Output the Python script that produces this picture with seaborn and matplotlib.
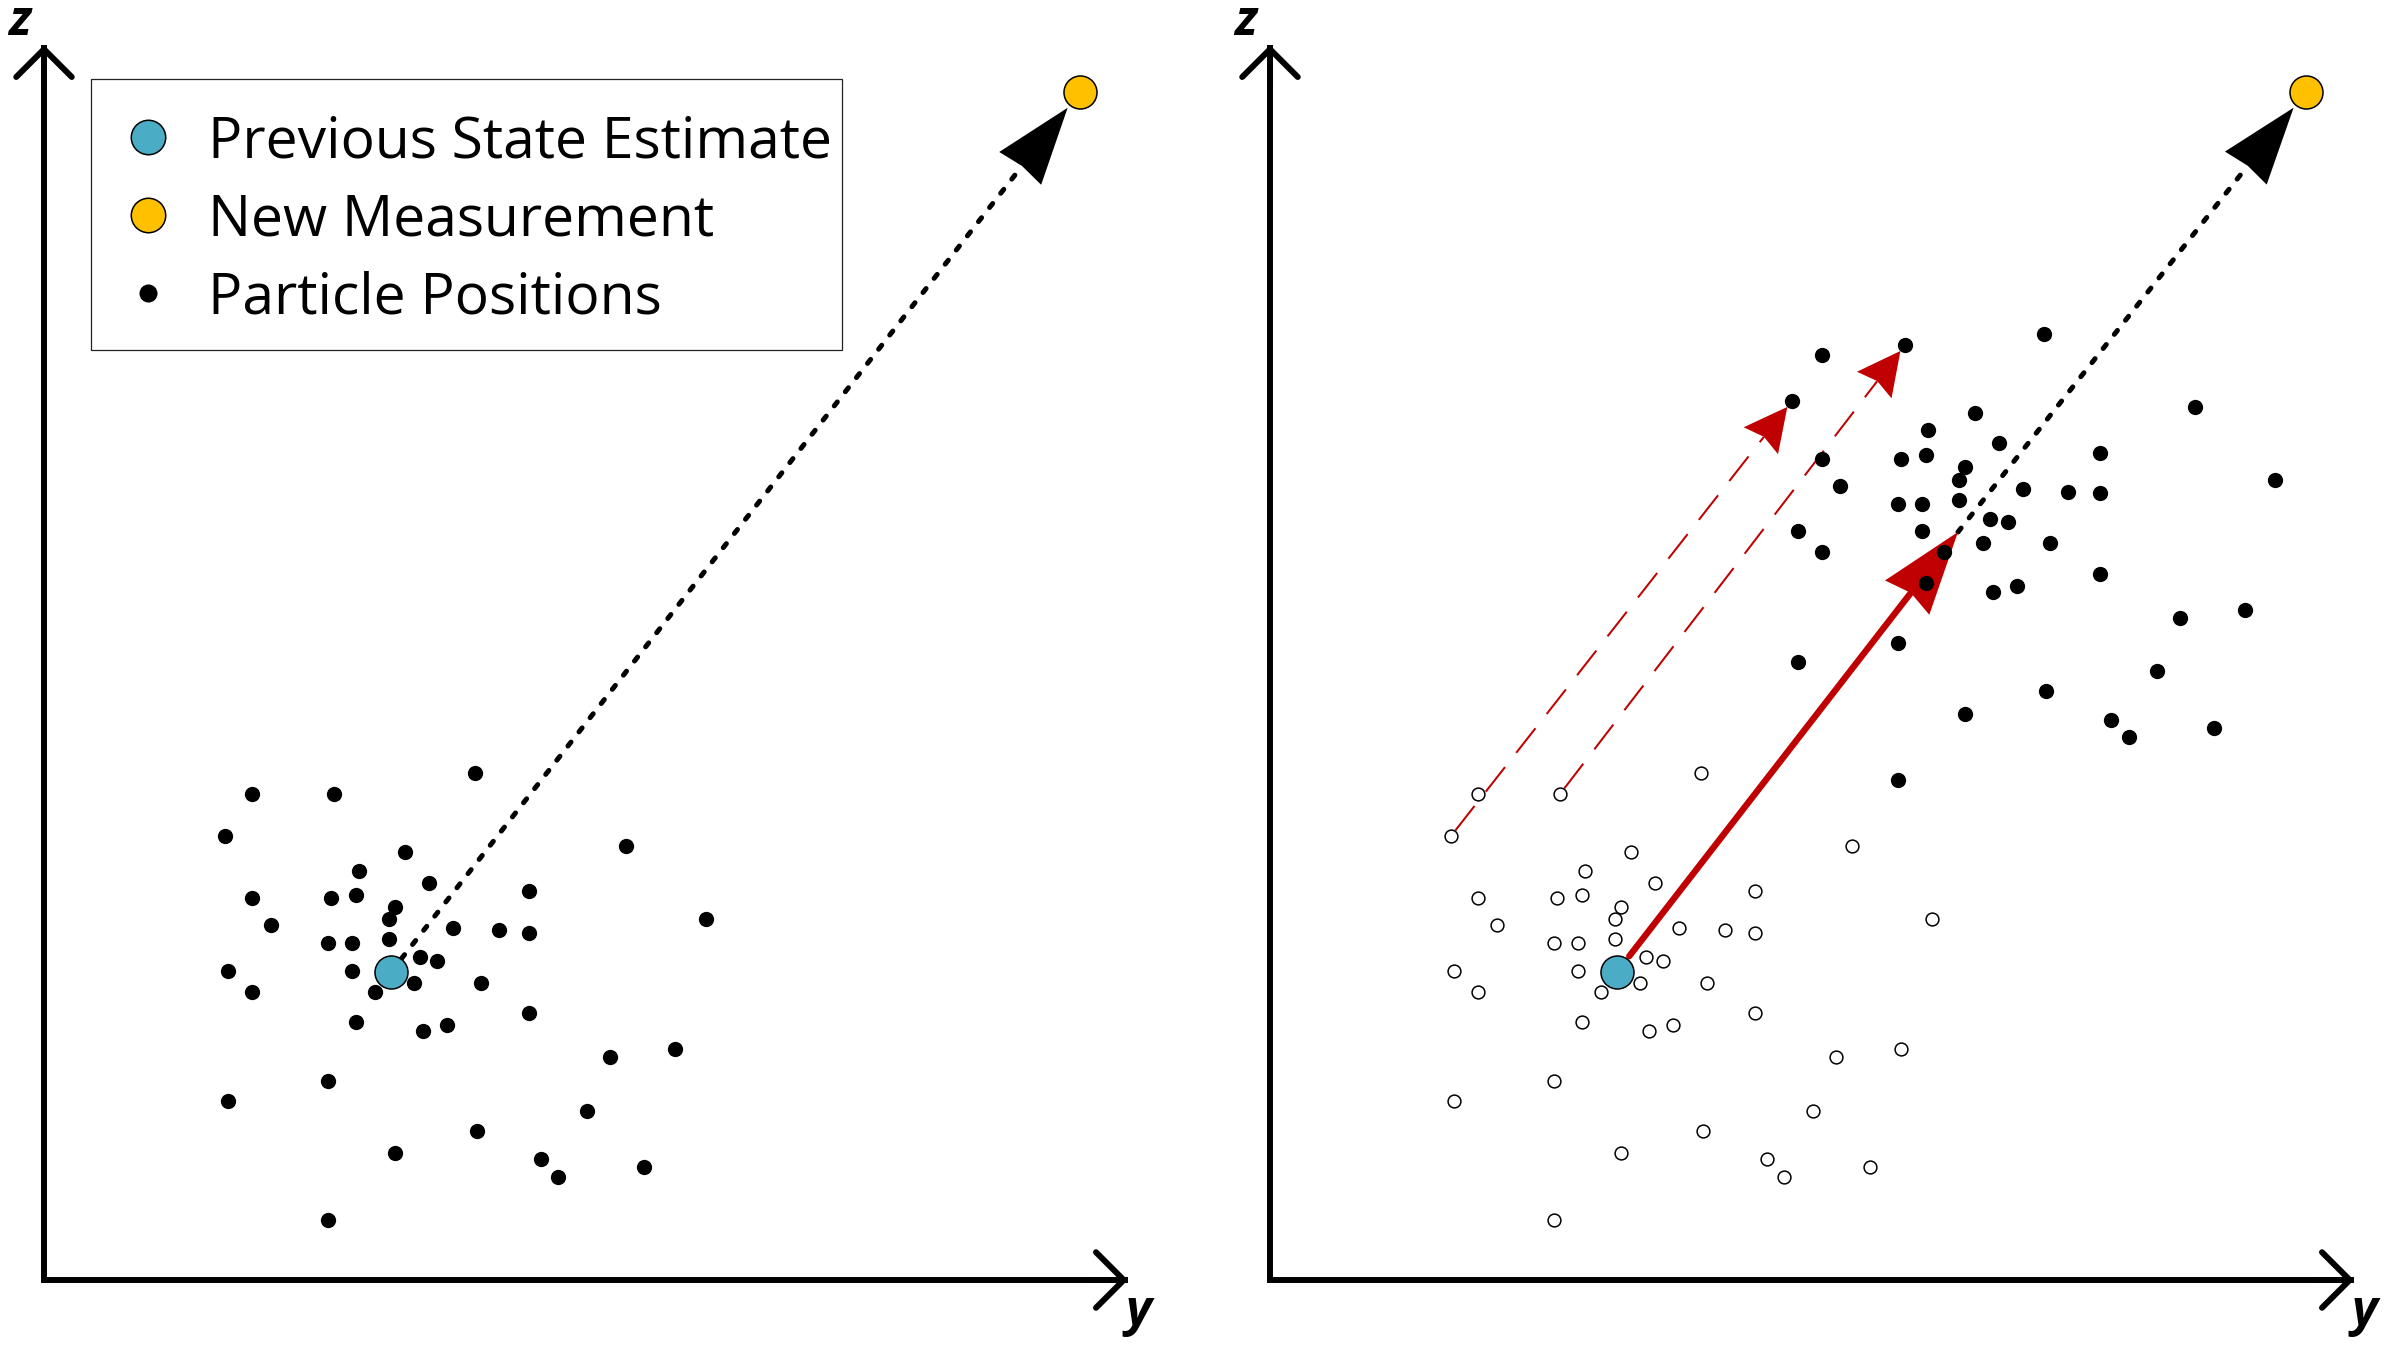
import numpy as np
import matplotlib
matplotlib.use("Agg")
import matplotlib.pyplot as plt
from matplotlib.lines import Line2D
from matplotlib.patches import Polygon, Rectangle, FancyArrowPatch
import seaborn as sns

# particle cloud around the previous estimate (y, z), left panel and hollow in right panel
prev_y = [208, 290, 431, 181, 582, 361, 315, 385, 208, 287, 312, 485, 351, 345, 227,
          409, 455, 485, 662, 284, 308, 345, 376, 393, 184, 308, 370, 437, 208, 331,
          485, 312, 379, 403, 566, 631, 284, 184, 543, 433, 351, 497, 514, 600, 284]
prev_z = [486, 486, 507, 444, 434, 428, 409, 397, 382, 382, 385, 389, 373, 361, 355,
          352, 350, 347, 361, 337, 337, 341, 323, 319, 309, 309, 297, 297, 288, 288,
          267, 258, 249, 255, 223, 231, 199, 179, 169, 149, 127, 121, 103, 113, 60]

# particles after the move (right panel, filled)
new_y = [552, 635, 774, 522, 925, 705, 658, 729, 552, 631, 656, 830, 695, 689, 570,
         753, 798, 830, 1005, 628, 652, 689, 720, 738, 528, 652, 713, 780, 552, 674,
         656, 747, 723, 830, 910, 975, 628, 528, 887, 776, 695, 841, 859, 944, 628]
new_z = [925, 935, 946, 879, 873, 867, 850, 837, 821, 821, 825, 827, 813, 800, 794,
         791, 788, 787, 800, 776, 776, 780, 761, 758, 749, 749, 737, 737, 728, 728,
         697, 694, 688, 706, 662, 670, 637, 618, 609, 589, 566, 560, 543, 552, 500]

traced = [3, 1]           # particles whose move is drawn with a dashed arrow
estimate = (347, 308)     # previous state estimate
measurement = (1036, 1188)
predicted = (688, 748)    # where the mean moves to

labels = ["Previous State Estimate", "New Measurement", "Particle Positions"]

BLUE = "#4BACC6"
GOLD = "#FFC000"
RED = "#C00000"

AXIS_Y = 1084
AXIS_Z = 1235

sns.set_theme(style="white")
plt.rcParams["font.family"] = ["Open Sans", "DejaVu Sans"]
plt.rcParams["text.color"] = "black"


def draw_frame(ax):
    ax.plot([0, 0, AXIS_Y], [AXIS_Z, 0, 0], color="black", lw=4.3,
            solid_joinstyle="miter", solid_capstyle="butt", clip_on=False, zorder=1)
    for tail, tip in [((0, AXIS_Z - 40), (0, AXIS_Z)), ((AXIS_Y - 40, 0), (AXIS_Y, 0))]:
        ax.add_patch(FancyArrowPatch(tail, tip, arrowstyle="->,head_length=20,head_width=20",
                                     mutation_scale=1, lw=4.3, color="black", capstyle="round",
                                     joinstyle="miter", shrinkA=0, shrinkB=0, clip_on=False))
    ax.text(-24, AXIS_Z + 10, "z", ha="center", va="baseline", fontsize=36,
            fontweight="bold", fontstyle="italic")
    ax.text(1094, -45, "y", ha="center", va="baseline", fontsize=36,
            fontweight="bold", fontstyle="italic")


def arrow(ax, start, end, shrink_a, shrink_b, head_len, head_half, notch,
          color, lw, ls, cap="butt"):
    start = np.asarray(start, float)
    end = np.asarray(end, float)
    u = (end - start) / np.hypot(*(end - start))
    n = np.array([-u[1], u[0]])
    p0 = start + u * shrink_a
    tip = end - u * shrink_b
    base = tip - u * head_len
    back = base + u * notch
    ax.plot([p0[0], back[0]], [p0[1], back[1]], color=color, lw=lw, linestyle=ls,
            dash_capstyle=cap, solid_capstyle=cap, zorder=2, clip_on=False)
    ax.add_patch(Polygon([tip, base + n * head_half, back, base - n * head_half],
                         closed=True, facecolor=color, edgecolor="none", zorder=2))


fig = plt.figure(figsize=(23.88, 13.53), dpi=100)
axL = fig.add_axes([0, 0, 0.5, 1])
axR = fig.add_axes([0.5, 0, 0.5, 1])

# ---- left panel
sns.scatterplot(x=prev_y, y=prev_z, ax=axL, s=121, color="black", linewidth=0,
                zorder=4, legend=False)
sns.scatterplot(x=[estimate[0]], y=[estimate[1]], ax=axL, s=565, color=BLUE,
                edgecolor="black", linewidth=1.1, zorder=3, legend=False)
sns.scatterplot(x=[measurement[0]], y=[measurement[1]], ax=axL, s=565, color=GOLD,
                edgecolor="black", linewidth=1.1, zorder=3, legend=False)
arrow(axL, estimate, measurement, 17, 20, 77, 26.6, 3, "black", 3.6, (0, (1.0, 2.6)), "round")

handles = [
    Line2D([], [], marker="o", ls="none", markersize=24.8, markerfacecolor=BLUE,
           markeredgecolor="black", markeredgewidth=1.1),
    Line2D([], [], marker="o", ls="none", markersize=24.8, markerfacecolor=GOLD,
           markeredgecolor="black", markeredgewidth=1.1),
    Line2D([], [], marker="o", ls="none", markersize=13, markerfacecolor="black",
           markeredgecolor="black", markeredgewidth=0),
]
axL.legend(handles, labels, loc="upper left", bbox_to_anchor=(80, 1166),
           bbox_transform=axL.transData, frameon=False, fontsize=41, borderpad=0,
           borderaxespad=0, handlelength=0.86, handletextpad=0.61, labelspacing=0.37,
           labelcolor="black")
axL.add_patch(Rectangle((47, 930), 751, 271, fill=False, edgecolor="#222222", lw=0.9,
                        zorder=5))

# ---- right panel
sns.scatterplot(x=prev_y, y=prev_z, ax=axR, s=85, color="white", edgecolor="black",
                linewidth=1.1, zorder=4, legend=False)
sns.scatterplot(x=new_y, y=new_z, ax=axR, s=121, color="black", linewidth=0,
                zorder=4, legend=False)
sns.scatterplot(x=[estimate[0]], y=[estimate[1]], ax=axR, s=565, color=BLUE,
                edgecolor="black", linewidth=1.1, zorder=3, legend=False)
sns.scatterplot(x=[measurement[0]], y=[measurement[1]], ax=axR, s=565, color=GOLD,
                edgecolor="black", linewidth=1.1, zorder=3, legend=False)
for i in traced:
    arrow(axR, (prev_y[i], prev_z[i]), (new_y[i], new_z[i]), 7, 7.5, 43, 21.8, 5,
          RED, 1.45, (0, (15.5, 9)))
arrow(axR, predicted, measurement, 0, 20, 77, 26.6, 3, "black", 3.6, (0, (1.0, 2.6)), "round")
arrow(axR, estimate, predicted, 20, 0, 83, 28, 6, RED, 4.6, "-", "round")

for ax, left in [(axL, 44), (axR, 76)]:
    draw_frame(ax)
    ax.set_xlim(-left, 1194 - left)
    ax.set_ylim(-73, 1280)
    ax.set_axis_off()

fig.savefig("out.png", dpi=100, facecolor="white")
